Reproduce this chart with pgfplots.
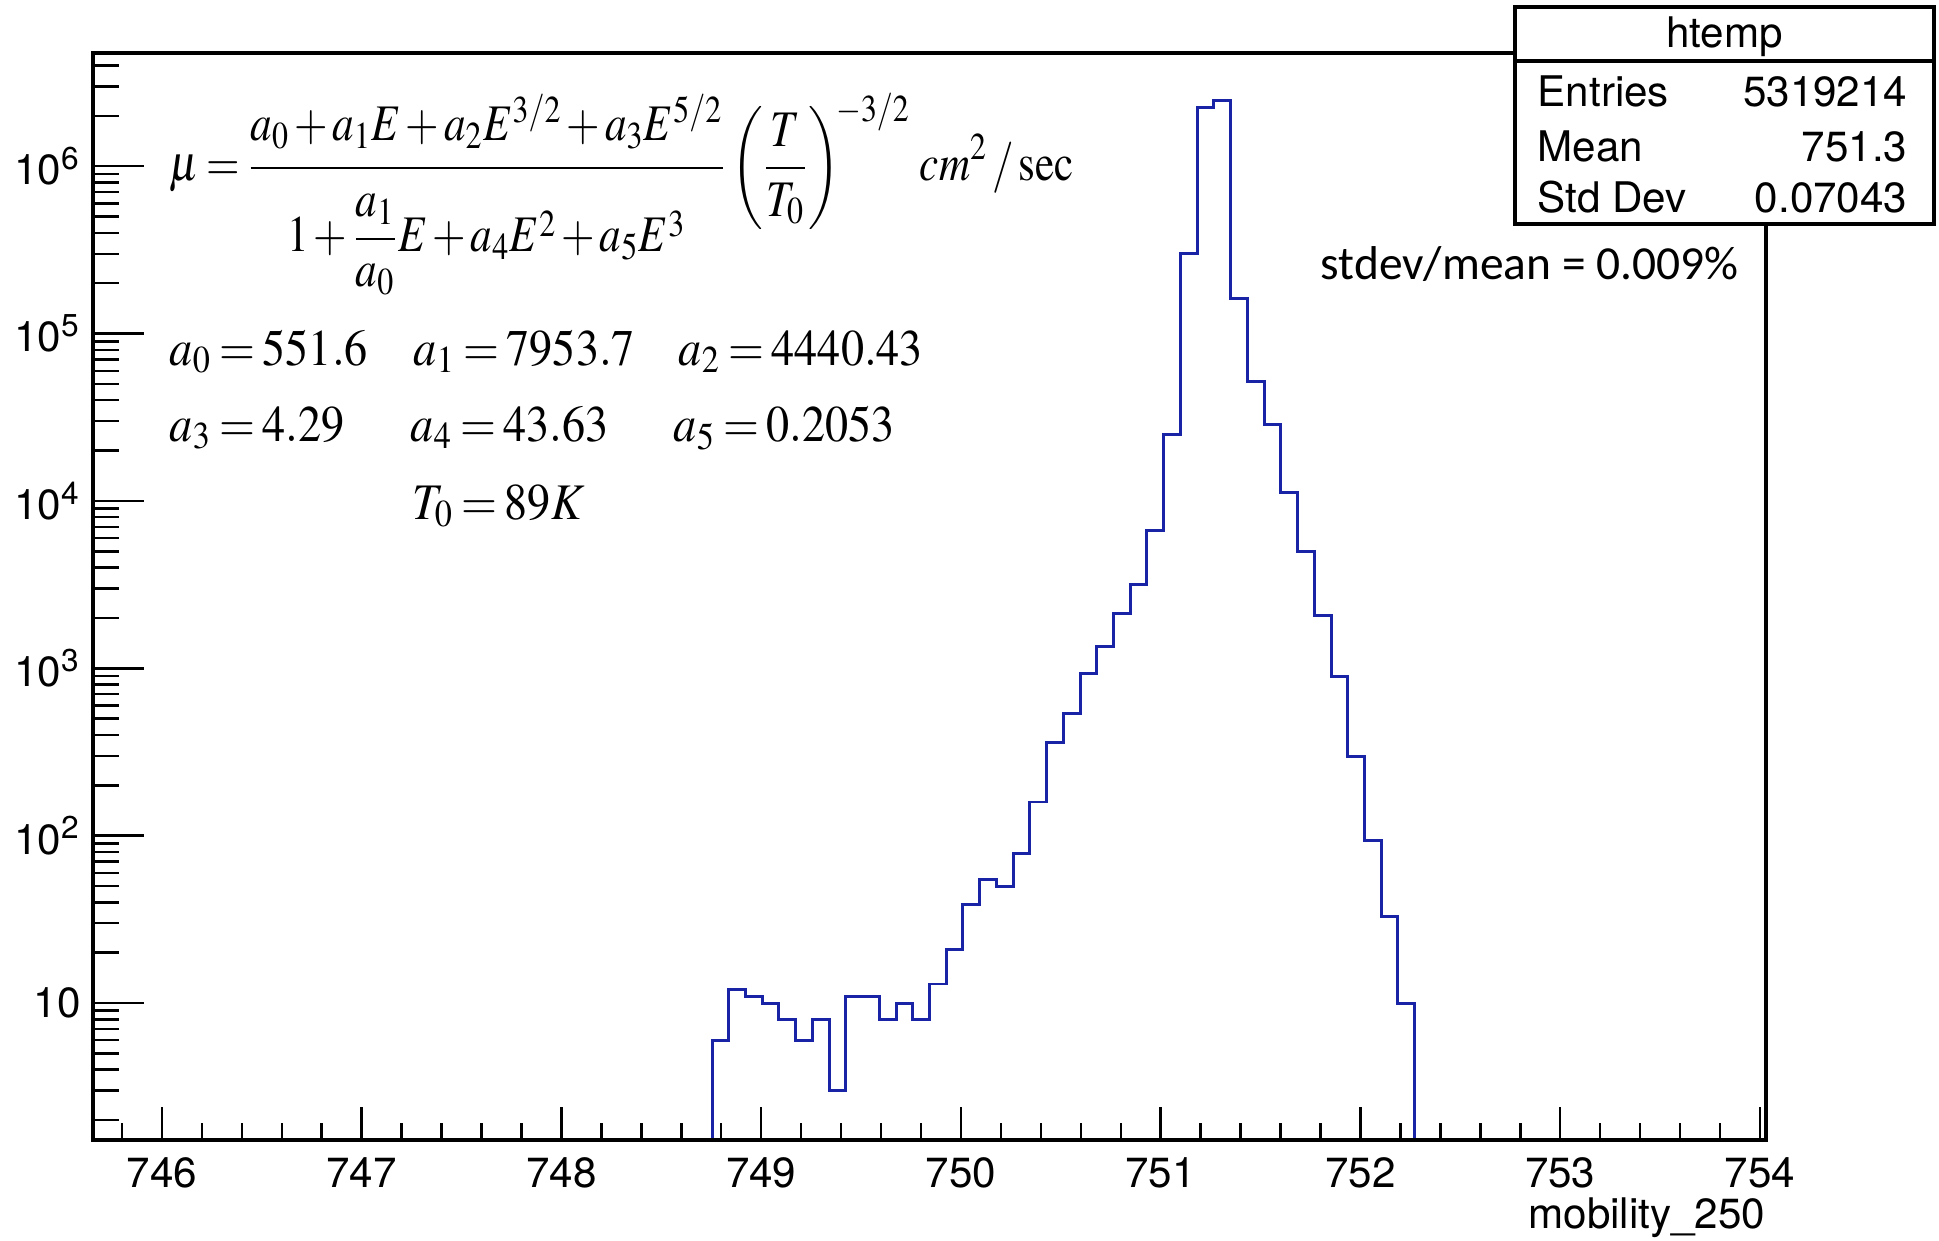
\documentclass[border=0pt]{standalone}
\usepackage{amsmath}
\usepackage{mathptmx}
\usepackage{graphicx}
\usepackage[no-math]{fontspec}
\setmainfont{TeX Gyre Heros}
\newfontfamily\calibri{Carlito}
\usepackage{pgfplots}
\pgfplotsset{compat=1.18}
\definecolor{histblue}{RGB}{25,35,165}
\newcommand{\eqfont}{\fontsize{14.6}{17}\selectfont\medmuskip=2mu\thickmuskip=3mu}
\newcommand{\lblfont}{\fontsize{12}{14}\selectfont}
\newcommand{\eq}[1]{\eqfont\scalebox{0.9}[1]{$#1$}}

\begin{document}
\begin{tikzpicture}
\useasboundingbox (-0.93,-1.00) rectangle (18.46,11.40);

% main axis: log y, histogram, y ticks
\begin{axis}[
  at={(0,0)}, anchor=south west, scale only axis,
  width=16.73cm, height=10.87cm,
  xmin=745.655, xmax=754.03,
  ymode=log, ymin=1.52, ymax=4.75e6,
  xtick=\empty, tick pos=left,
  major tick length=0.51cm, minor tick length=0.26cm,
  tick style={black, line width=0.7pt},
  axis line style={line width=0.9pt},
  yticklabel style={font=\lblfont},
  yticklabel={\pgfmathtruncatemacro{\ex}{round(\tick/ln(10))}\ifnum\ex=1 10\else 10\textsuperscript{\ex}\fi},
]
\addplot[const plot mark left, color=histblue, line width=0.85pt] coordinates {
(748.75375,1) (748.75375,6) (748.8375,12) (748.92125,11) (749.005,10)
(749.08875,8) (749.1725,6) (749.25625,8) (749.34,3) (749.42375,11)
(749.5075,11) (749.59125,8) (749.675,10) (749.75875,8) (749.8425,13)
(749.92625,21) (750.01,39) (750.09375,55) (750.1775,50) (750.26125,78)
(750.345,159) (750.42875,359) (750.5125,535) (750.59625,926) (750.68,1344)
(750.76375,2123) (750.8475,3190) (750.93125,6700) (751.015,24800) (751.09875,302000)
(751.1825,2230000) (751.26625,2480000) (751.35,162500) (751.43375,52000) (751.5175,28700)
(751.60125,11270) (751.685,4980) (751.76875,2075) (751.8525,893) (751.93625,297)
(752.02,94) (752.10375,33) (752.1875,10) (752.27125,10) (752.27125,1)
};
\end{axis}

% second axis: x ticks only (shorter ticks)
\begin{axis}[
  at={(0,0)}, anchor=south west, scale only axis,
  width=16.73cm, height=10.87cm,
  xmin=745.655, xmax=754.03, ymin=0, ymax=1,
  ytick=\empty, minor ytick=\empty,
  xtick={746,747,748,749,750,751,752,753,754},
  minor xtick={745.8,746,...,754},
  tick pos=left,
  major tick length=0.33cm, minor tick length=0.17cm,
  tick style={black, line width=0.7pt},
  axis line style={line width=0.9pt},
  /pgf/number format/assume math mode=true,
  /pgf/number format/1000 sep={},
  xticklabel style={font=\lblfont, anchor=base, yshift=-0.47cm},
]
\end{axis}

% formula and parameters
\node[anchor=base west, inner sep=0] at (0.76,9.59) {\eqfont\scalebox{0.84}[1]{$\displaystyle \mu=\frac{\vrule height 0pt depth 0.2cm width 0pt a_0+a_1E+a_2E^{3/2}+a_3E^{5/2}}{\vrule height 0.76cm width 0pt 1+\dfrac{a_1}{a_0}E+a_4E^2+a_5E^3}\left(\frac{T}{T_0}\right)^{\!-3/2}\, cm^2\,/\,\mathrm{sec}$}};
\node[anchor=base west, inner sep=0] at (0.76,7.75) {\eq{a_0=551.6}};
\node[anchor=base west, inner sep=0] at (3.20,7.75) {\eq{a_1=7953.7}};
\node[anchor=base west, inner sep=0] at (5.85,7.75) {\eq{a_2=4440.43}};
\node[anchor=base west, inner sep=0] at (0.76,6.99) {\eq{a_3=4.29}};
\node[anchor=base west, inner sep=0] at (3.17,6.99) {\eq{a_4=43.63}};
\node[anchor=base west, inner sep=0] at (5.80,6.99) {\eq{a_5=0.2053}};
\node[anchor=base west, inner sep=0] at (3.19,6.21) {\eq{T_0=89K}};

\node[anchor=base west, inner sep=0, font=\calibri\fontsize{13.5}{16}\selectfont] at (12.27,8.60) {stdev/mean = 0.009\%};

% axis title
\node[anchor=base east, inner sep=0, font=\lblfont] at (16.73,-0.88) {mobility\_250};

% stats box
\draw[line width=0.9pt, fill=white] (14.22,9.16) rectangle (18.41,11.33);
\draw[line width=0.9pt] (14.22,10.79) -- (18.41,10.79);
\node[anchor=base, inner sep=0, font=\lblfont] at (16.315,10.93) {htemp};
\node[anchor=base west, inner sep=0, font=\lblfont] at (14.44,10.33) {Entries};
\node[anchor=base east, inner sep=0, font=\lblfont] at (18.15,10.33) {5319214};
\node[anchor=base west, inner sep=0, font=\lblfont] at (14.44,9.78) {Mean};
\node[anchor=base east, inner sep=0, font=\lblfont] at (18.15,9.78) {751.3};
\node[anchor=base west, inner sep=0, font=\lblfont] at (14.44,9.27) {Std Dev};
\node[anchor=base east, inner sep=0, font=\lblfont] at (18.15,9.27) {0.07043};
\end{tikzpicture}
\end{document}
